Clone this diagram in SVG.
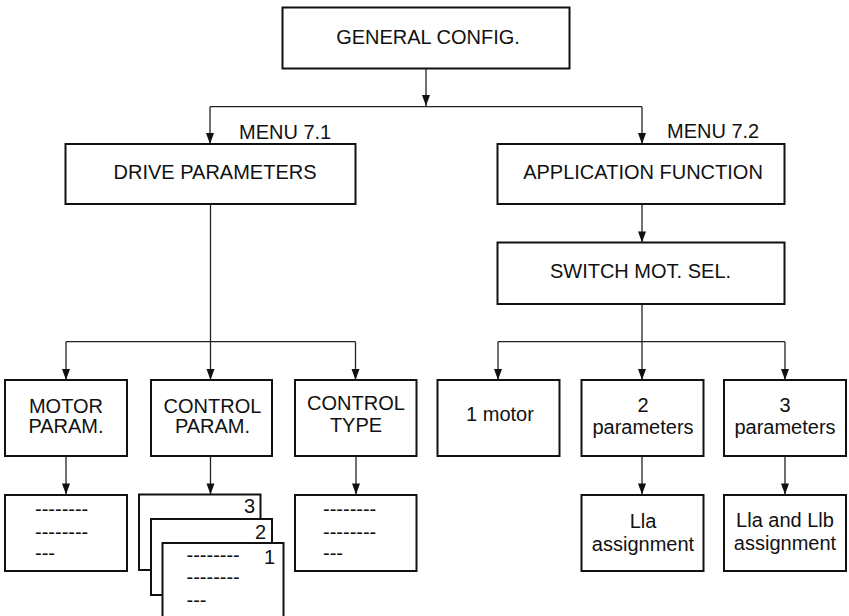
<svg xmlns="http://www.w3.org/2000/svg" width="849" height="616" viewBox="0 0 849 616">
<defs>
<style>
.box{fill:#fff;stroke:#111;stroke-width:2}
.t{font-family:"Liberation Sans",Arial,sans-serif;font-size:20px;fill:#111}
.c{text-anchor:middle}
.r{text-anchor:end}
.ln{fill:none;stroke:#222;stroke-width:1.3}
</style>
<marker id="arr" markerUnits="userSpaceOnUse" markerWidth="8" markerHeight="11" viewBox="0 0 8 11" refX="4" refY="11" orient="auto-start-reverse">
<path d="M0,0 L4,11 L8,0 Z" fill="#111"/>
</marker>
</defs>
<rect width="849" height="616" fill="#fff"/>

<g id="connectors">
<path class="ln" d="M426,68.5 V106"/>
<path class="ln" d="M210,106.7 H642"/>
<path class="ln" d="M210,106.7 V143.5"/>
<path class="ln" d="M642,106.7 V143.5"/>
<path class="ln" d="M210.5,204 V379.5"/>
<path class="ln" d="M66,341.7 H355.5"/>
<path class="ln" d="M66,341.7 V379.5"/>
<path class="ln" d="M355.5,341.7 V379.5"/>
<path class="ln" d="M66,456 V494"/>
<path class="ln" d="M210.5,456 V494"/>
<path class="ln" d="M356,456 V494"/>
<path class="ln" d="M642,204 V242"/>
<path class="ln" d="M642,304 V379.5"/>
<path class="ln" d="M498,341.7 H785"/>
<path class="ln" d="M498,341.7 V379.5"/>
<path class="ln" d="M785,341.7 V379.5"/>
<path class="ln" d="M642,456 V494"/>
<path class="ln" d="M785,456 V494"/>
<g fill="#111">
<path d="M422,95 L426,106 L430,95 Z"/>
<path d="M206,133 L210,144 L214,133 Z"/>
<path d="M638,133 L642,144 L646,133 Z"/>
<path d="M206.5,369 L210.5,380 L214.5,369 Z"/>
<path d="M62,369 L66,380 L70,369 Z"/>
<path d="M351.5,369 L355.5,380 L359.5,369 Z"/>
<path d="M62,483.5 L66,494.5 L70,483.5 Z"/>
<path d="M206.5,483.5 L210.5,494.5 L214.5,483.5 Z"/>
<path d="M352,483.5 L356,494.5 L360,483.5 Z"/>
<path d="M638,231.5 L642,242.5 L646,231.5 Z"/>
<path d="M638,369 L642,380 L646,369 Z"/>
<path d="M494,369 L498,380 L502,369 Z"/>
<path d="M781,369 L785,380 L789,369 Z"/>
<path d="M638,483.5 L642,494.5 L646,483.5 Z"/>
<path d="M781,483.5 L785,494.5 L789,483.5 Z"/>
</g>
</g>

<g id="general-config">
<rect class="box" x="282.5" y="7.5" width="287" height="61"/>
<text class="t c" x="428" y="44">GENERAL CONFIG.</text>
</g>

<g id="drive-parameters">
<text class="t" x="239" y="139">MENU 7.1</text>
<rect class="box" x="65.5" y="144" width="290" height="60"/>
<text class="t c" x="215" y="179">DRIVE PARAMETERS</text>
</g>

<g id="application-function">
<text class="t" x="667" y="138">MENU 7.2</text>
<rect class="box" x="497.5" y="144" width="287" height="60"/>
<text class="t c" x="643" y="179">APPLICATION FUNCTION</text>
</g>

<g id="switch-mot-sel">
<rect class="box" x="497.5" y="242.5" width="287" height="61.5"/>
<text class="t c" x="640.5" y="278">SWITCH MOT. SEL.</text>
</g>

<g id="motor-param">
<rect class="box" x="5" y="380" width="122" height="76"/>
<text class="t c" x="66" y="413">MOTOR</text>
<text class="t c" x="66" y="433">PARAM.</text>
</g>

<g id="control-param">
<rect class="box" x="151" y="380" width="121" height="76"/>
<text class="t c" x="212.5" y="413">CONTROL</text>
<text class="t c" x="212.5" y="433">PARAM.</text>
</g>

<g id="control-type">
<rect class="box" x="295" y="380" width="121.5" height="76"/>
<text class="t c" x="356" y="410">CONTROL</text>
<text class="t c" x="356" y="432">TYPE</text>
</g>

<g id="motor-param-list">
<rect class="box" x="5" y="495" width="122" height="76"/>
<text class="t" x="35" y="515.5">--------</text>
<text class="t" x="35" y="539">--------</text>
<text class="t" x="35" y="560">---</text>
</g>

<g id="control-param-pages">
<rect class="box" x="139" y="494.5" width="121.5" height="75.5"/>
<text class="t r" x="255" y="513">3</text>
<rect class="box" x="151" y="519" width="121" height="76"/>
<text class="t r" x="266" y="539">2</text>
<rect class="box" x="162.5" y="543" width="121" height="80"/>
<text class="t r" x="275" y="564">1</text>
<text class="t" x="186.5" y="562">--------</text>
<text class="t" x="186.5" y="583.5">--------</text>
<text class="t" x="186.5" y="607">---</text>
</g>

<g id="control-type-list">
<rect class="box" x="295" y="495" width="121.5" height="76"/>
<text class="t" x="323" y="515.5">--------</text>
<text class="t" x="323" y="539">--------</text>
<text class="t" x="323" y="560">---</text>
</g>

<g id="one-motor">
<rect class="box" x="437.5" y="380" width="122" height="76"/>
<text class="t c" x="500" y="421">1 motor</text>
</g>

<g id="two-parameters">
<rect class="box" x="581.5" y="380" width="122" height="76"/>
<text class="t c" x="643" y="412">2</text>
<text class="t c" x="643" y="434">parameters</text>
</g>

<g id="three-parameters">
<rect class="box" x="724" y="380" width="122" height="76"/>
<text class="t c" x="785" y="412">3</text>
<text class="t c" x="785" y="434">parameters</text>
</g>

<g id="lla-assignment">
<rect class="box" x="581.5" y="495" width="122" height="76"/>
<text class="t c" x="643" y="528">Lla</text>
<text class="t c" x="643" y="551">assignment</text>
</g>

<g id="lla-llb-assignment">
<rect class="box" x="724" y="495" width="122" height="76"/>
<text class="t c" x="785" y="527">Lla and Llb</text>
<text class="t c" x="785" y="549.5">assignment</text>
</g>
</svg>
